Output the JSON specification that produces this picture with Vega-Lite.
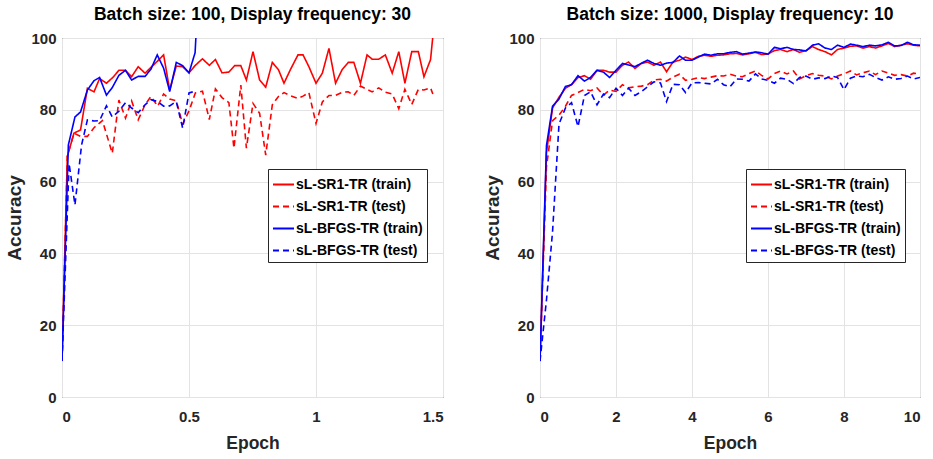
{
  "$schema": "https://vega.github.io/schema/vega-lite/v6.json",
  "padding": {"left": 5, "top": 5, "right": 3, "bottom": 4},
  "background": "white",
  "spacing": 39,
  "datasets": {
    "left": [
      {"s":"sL-SR1-TR (train)","e":0,"a":10},{"s":"sL-SR1-TR (train)","e":0.021,"a":67},{"s":"sL-SR1-TR (train)","e":0.047,"a":73.5},{"s":"sL-SR1-TR (train)","e":0.073,"a":74.4},{"s":"sL-SR1-TR (train)","e":0.1,"a":86},{"s":"sL-SR1-TR (train)","e":0.126,"a":85},{"s":"sL-SR1-TR (train)","e":0.148,"a":88.7},{"s":"sL-SR1-TR (train)","e":0.175,"a":87.4},{"s":"sL-SR1-TR (train)","e":0.2,"a":89},{"s":"sL-SR1-TR (train)","e":0.224,"a":91},{"s":"sL-SR1-TR (train)","e":0.25,"a":91},{"s":"sL-SR1-TR (train)","e":0.274,"a":89.2},{"s":"sL-SR1-TR (train)","e":0.3,"a":92},{"s":"sL-SR1-TR (train)","e":0.327,"a":90.2},{"s":"sL-SR1-TR (train)","e":0.35,"a":91.8},{"s":"sL-SR1-TR (train)","e":0.375,"a":93.5},{"s":"sL-SR1-TR (train)","e":0.4,"a":95.3},{"s":"sL-SR1-TR (train)","e":0.424,"a":85.5},{"s":"sL-SR1-TR (train)","e":0.45,"a":92.2},{"s":"sL-SR1-TR (train)","e":0.475,"a":92},{"s":"sL-SR1-TR (train)","e":0.5,"a":90.3},{"s":"sL-SR1-TR (train)","e":0.525,"a":92.4},{"s":"sL-SR1-TR (train)","e":0.553,"a":94.2},{"s":"sL-SR1-TR (train)","e":0.58,"a":92.4},{"s":"sL-SR1-TR (train)","e":0.604,"a":94},{"s":"sL-SR1-TR (train)","e":0.63,"a":90.3},{"s":"sL-SR1-TR (train)","e":0.657,"a":90.5},{"s":"sL-SR1-TR (train)","e":0.68,"a":92.3},{"s":"sL-SR1-TR (train)","e":0.704,"a":92.3},{"s":"sL-SR1-TR (train)","e":0.726,"a":88.3},{"s":"sL-SR1-TR (train)","e":0.752,"a":96.2},{"s":"sL-SR1-TR (train)","e":0.778,"a":88.3},{"s":"sL-SR1-TR (train)","e":0.802,"a":86.3},{"s":"sL-SR1-TR (train)","e":0.828,"a":93.2},{"s":"sL-SR1-TR (train)","e":0.852,"a":91.2},{"s":"sL-SR1-TR (train)","e":0.874,"a":87.4},{"s":"sL-SR1-TR (train)","e":0.9,"a":91.3},{"s":"sL-SR1-TR (train)","e":0.929,"a":95.3},{"s":"sL-SR1-TR (train)","e":0.949,"a":95.3},{"s":"sL-SR1-TR (train)","e":0.972,"a":92},{"s":"sL-SR1-TR (train)","e":1.0,"a":87.4},{"s":"sL-SR1-TR (train)","e":1.025,"a":90.2},{"s":"sL-SR1-TR (train)","e":1.051,"a":97.1},{"s":"sL-SR1-TR (train)","e":1.077,"a":87.4},{"s":"sL-SR1-TR (train)","e":1.103,"a":91.2},{"s":"sL-SR1-TR (train)","e":1.127,"a":93.2},{"s":"sL-SR1-TR (train)","e":1.149,"a":93.2},{"s":"sL-SR1-TR (train)","e":1.175,"a":87.4},{"s":"sL-SR1-TR (train)","e":1.201,"a":95.3},{"s":"sL-SR1-TR (train)","e":1.221,"a":94.1},{"s":"sL-SR1-TR (train)","e":1.247,"a":94.1},{"s":"sL-SR1-TR (train)","e":1.273,"a":95.3},{"s":"sL-SR1-TR (train)","e":1.3,"a":90.2},{"s":"sL-SR1-TR (train)","e":1.326,"a":96.2},{"s":"sL-SR1-TR (train)","e":1.35,"a":87.4},{"s":"sL-SR1-TR (train)","e":1.377,"a":96.2},{"s":"sL-SR1-TR (train)","e":1.403,"a":96.2},{"s":"sL-SR1-TR (train)","e":1.425,"a":89.2},{"s":"sL-SR1-TR (train)","e":1.451,"a":94},{"s":"sL-SR1-TR (train)","e":1.465,"a":104},
      {"s":"sL-SR1-TR (test)","e":0,"a":10},{"s":"sL-SR1-TR (test)","e":0.021,"a":67},{"s":"sL-SR1-TR (test)","e":0.047,"a":73.5},{"s":"sL-SR1-TR (test)","e":0.073,"a":72.6},{"s":"sL-SR1-TR (test)","e":0.1,"a":72.6},{"s":"sL-SR1-TR (test)","e":0.126,"a":75},{"s":"sL-SR1-TR (test)","e":0.159,"a":77},{"s":"sL-SR1-TR (test)","e":0.198,"a":67.9},{"s":"sL-SR1-TR (test)","e":0.224,"a":82.7},{"s":"sL-SR1-TR (test)","e":0.25,"a":77.7},{"s":"sL-SR1-TR (test)","e":0.274,"a":82.5},{"s":"sL-SR1-TR (test)","e":0.3,"a":77.2},{"s":"sL-SR1-TR (test)","e":0.327,"a":81.4},{"s":"sL-SR1-TR (test)","e":0.35,"a":83.7},{"s":"sL-SR1-TR (test)","e":0.377,"a":81},{"s":"sL-SR1-TR (test)","e":0.4,"a":84.4},{"s":"sL-SR1-TR (test)","e":0.424,"a":83},{"s":"sL-SR1-TR (test)","e":0.45,"a":82.5},{"s":"sL-SR1-TR (test)","e":0.475,"a":76},{"s":"sL-SR1-TR (test)","e":0.5,"a":79.7},{"s":"sL-SR1-TR (test)","e":0.525,"a":84.7},{"s":"sL-SR1-TR (test)","e":0.553,"a":85.2},{"s":"sL-SR1-TR (test)","e":0.58,"a":77.3},{"s":"sL-SR1-TR (test)","e":0.604,"a":85.8},{"s":"sL-SR1-TR (test)","e":0.63,"a":83.4},{"s":"sL-SR1-TR (test)","e":0.657,"a":82},{"s":"sL-SR1-TR (test)","e":0.677,"a":69.3},{"s":"sL-SR1-TR (test)","e":0.704,"a":86.9},{"s":"sL-SR1-TR (test)","e":0.726,"a":69.3},{"s":"sL-SR1-TR (test)","e":0.752,"a":81.8},{"s":"sL-SR1-TR (test)","e":0.778,"a":79},{"s":"sL-SR1-TR (test)","e":0.802,"a":67.4},{"s":"sL-SR1-TR (test)","e":0.828,"a":81.4},{"s":"sL-SR1-TR (test)","e":0.852,"a":83.7},{"s":"sL-SR1-TR (test)","e":0.874,"a":84.8},{"s":"sL-SR1-TR (test)","e":0.9,"a":83.9},{"s":"sL-SR1-TR (test)","e":0.929,"a":83.2},{"s":"sL-SR1-TR (test)","e":0.949,"a":83.8},{"s":"sL-SR1-TR (test)","e":0.972,"a":84.8},{"s":"sL-SR1-TR (test)","e":1.0,"a":76.2},{"s":"sL-SR1-TR (test)","e":1.025,"a":82.2},{"s":"sL-SR1-TR (test)","e":1.051,"a":84},{"s":"sL-SR1-TR (test)","e":1.077,"a":84},{"s":"sL-SR1-TR (test)","e":1.103,"a":84.9},{"s":"sL-SR1-TR (test)","e":1.127,"a":85},{"s":"sL-SR1-TR (test)","e":1.149,"a":84},{"s":"sL-SR1-TR (test)","e":1.175,"a":86.6},{"s":"sL-SR1-TR (test)","e":1.201,"a":85.7},{"s":"sL-SR1-TR (test)","e":1.221,"a":85},{"s":"sL-SR1-TR (test)","e":1.247,"a":86.1},{"s":"sL-SR1-TR (test)","e":1.273,"a":84.9},{"s":"sL-SR1-TR (test)","e":1.3,"a":84.4},{"s":"sL-SR1-TR (test)","e":1.326,"a":80.3},{"s":"sL-SR1-TR (test)","e":1.35,"a":85.7},{"s":"sL-SR1-TR (test)","e":1.377,"a":81.5},{"s":"sL-SR1-TR (test)","e":1.403,"a":85.7},{"s":"sL-SR1-TR (test)","e":1.425,"a":85.5},{"s":"sL-SR1-TR (test)","e":1.451,"a":86.1},{"s":"sL-SR1-TR (test)","e":1.46,"a":84.4},
      {"s":"sL-BFGS-TR (train)","e":0,"a":10},{"s":"sL-BFGS-TR (train)","e":0.025,"a":70.2},{"s":"sL-BFGS-TR (train)","e":0.051,"a":78},{"s":"sL-BFGS-TR (train)","e":0.073,"a":79.4},{"s":"sL-BFGS-TR (train)","e":0.1,"a":85.5},{"s":"sL-BFGS-TR (train)","e":0.126,"a":88.1},{"s":"sL-BFGS-TR (train)","e":0.148,"a":89},{"s":"sL-BFGS-TR (train)","e":0.175,"a":84.1},{"s":"sL-BFGS-TR (train)","e":0.198,"a":86.2},{"s":"sL-BFGS-TR (train)","e":0.224,"a":89.6},{"s":"sL-BFGS-TR (train)","e":0.25,"a":91},{"s":"sL-BFGS-TR (train)","e":0.274,"a":88.3},{"s":"sL-BFGS-TR (train)","e":0.3,"a":89.3},{"s":"sL-BFGS-TR (train)","e":0.327,"a":89.3},{"s":"sL-BFGS-TR (train)","e":0.35,"a":91.3},{"s":"sL-BFGS-TR (train)","e":0.375,"a":95.3},{"s":"sL-BFGS-TR (train)","e":0.4,"a":91.6},{"s":"sL-BFGS-TR (train)","e":0.424,"a":85.1},{"s":"sL-BFGS-TR (train)","e":0.45,"a":93.2},{"s":"sL-BFGS-TR (train)","e":0.475,"a":92.3},{"s":"sL-BFGS-TR (train)","e":0.5,"a":90.3},{"s":"sL-BFGS-TR (train)","e":0.524,"a":95.9},{"s":"sL-BFGS-TR (train)","e":0.53,"a":104},
      {"s":"sL-BFGS-TR (test)","e":0,"a":10},{"s":"sL-BFGS-TR (test)","e":0.028,"a":65},{"s":"sL-BFGS-TR (test)","e":0.051,"a":53.5},{"s":"sL-BFGS-TR (test)","e":0.077,"a":70.2},{"s":"sL-BFGS-TR (test)","e":0.1,"a":77.2},{"s":"sL-BFGS-TR (test)","e":0.126,"a":76.9},{"s":"sL-BFGS-TR (test)","e":0.148,"a":77},{"s":"sL-BFGS-TR (test)","e":0.175,"a":81.1},{"s":"sL-BFGS-TR (test)","e":0.198,"a":78},{"s":"sL-BFGS-TR (test)","e":0.224,"a":79.6},{"s":"sL-BFGS-TR (test)","e":0.25,"a":82},{"s":"sL-BFGS-TR (test)","e":0.274,"a":80.5},{"s":"sL-BFGS-TR (test)","e":0.3,"a":79.2},{"s":"sL-BFGS-TR (test)","e":0.327,"a":81.4},{"s":"sL-BFGS-TR (test)","e":0.35,"a":82.8},{"s":"sL-BFGS-TR (test)","e":0.377,"a":82.3},{"s":"sL-BFGS-TR (test)","e":0.4,"a":81},{"s":"sL-BFGS-TR (test)","e":0.424,"a":81.1},{"s":"sL-BFGS-TR (test)","e":0.45,"a":82.3},{"s":"sL-BFGS-TR (test)","e":0.475,"a":74.9},{"s":"sL-BFGS-TR (test)","e":0.5,"a":84.7},{"s":"sL-BFGS-TR (test)","e":0.515,"a":85}
    ],
    "right": [
      {"s":"sL-SR1-TR (train)","e":0,"a":10},{"s":"sL-SR1-TR (train)","e":0.17,"a":68},{"s":"sL-SR1-TR (train)","e":0.33,"a":80.5},{"s":"sL-SR1-TR (train)","e":0.5,"a":83.5},{"s":"sL-SR1-TR (train)","e":0.67,"a":86},{"s":"sL-SR1-TR (train)","e":0.83,"a":87},{"s":"sL-SR1-TR (train)","e":1,"a":89},{"s":"sL-SR1-TR (train)","e":1.17,"a":89.5},{"s":"sL-SR1-TR (train)","e":1.33,"a":88.5},{"s":"sL-SR1-TR (train)","e":1.5,"a":91},{"s":"sL-SR1-TR (train)","e":1.67,"a":91},{"s":"sL-SR1-TR (train)","e":1.83,"a":90.5},{"s":"sL-SR1-TR (train)","e":2,"a":90.5},{"s":"sL-SR1-TR (train)","e":2.17,"a":92.4},{"s":"sL-SR1-TR (train)","e":2.33,"a":93.3},{"s":"sL-SR1-TR (train)","e":2.5,"a":91.5},{"s":"sL-SR1-TR (train)","e":2.67,"a":92.9},{"s":"sL-SR1-TR (train)","e":2.83,"a":93.3},{"s":"sL-SR1-TR (train)","e":3,"a":92.4},{"s":"sL-SR1-TR (train)","e":3.17,"a":93.3},{"s":"sL-SR1-TR (train)","e":3.33,"a":90.6},{"s":"sL-SR1-TR (train)","e":3.5,"a":93.3},{"s":"sL-SR1-TR (train)","e":3.67,"a":93.8},{"s":"sL-SR1-TR (train)","e":3.83,"a":94.7},{"s":"sL-SR1-TR (train)","e":4,"a":94},{"s":"sL-SR1-TR (train)","e":4.17,"a":94.9},{"s":"sL-SR1-TR (train)","e":4.33,"a":95.2},{"s":"sL-SR1-TR (train)","e":4.5,"a":94.9},{"s":"sL-SR1-TR (train)","e":4.67,"a":95.2},{"s":"sL-SR1-TR (train)","e":4.83,"a":95.3},{"s":"sL-SR1-TR (train)","e":5,"a":95.6},{"s":"sL-SR1-TR (train)","e":5.17,"a":95.7},{"s":"sL-SR1-TR (train)","e":5.33,"a":95.3},{"s":"sL-SR1-TR (train)","e":5.5,"a":95.6},{"s":"sL-SR1-TR (train)","e":5.67,"a":96},{"s":"sL-SR1-TR (train)","e":5.83,"a":95.4},{"s":"sL-SR1-TR (train)","e":6,"a":95.5},{"s":"sL-SR1-TR (train)","e":6.17,"a":96.5},{"s":"sL-SR1-TR (train)","e":6.33,"a":96.8},{"s":"sL-SR1-TR (train)","e":6.5,"a":96.2},{"s":"sL-SR1-TR (train)","e":6.67,"a":96.8},{"s":"sL-SR1-TR (train)","e":6.83,"a":96},{"s":"sL-SR1-TR (train)","e":7,"a":96.5},{"s":"sL-SR1-TR (train)","e":7.17,"a":97.6},{"s":"sL-SR1-TR (train)","e":7.33,"a":96.8},{"s":"sL-SR1-TR (train)","e":7.5,"a":96.2},{"s":"sL-SR1-TR (train)","e":7.67,"a":95.3},{"s":"sL-SR1-TR (train)","e":7.83,"a":96.8},{"s":"sL-SR1-TR (train)","e":8,"a":97.2},{"s":"sL-SR1-TR (train)","e":8.17,"a":97.7},{"s":"sL-SR1-TR (train)","e":8.33,"a":97.8},{"s":"sL-SR1-TR (train)","e":8.5,"a":97.2},{"s":"sL-SR1-TR (train)","e":8.67,"a":97.6},{"s":"sL-SR1-TR (train)","e":8.83,"a":97.2},{"s":"sL-SR1-TR (train)","e":9,"a":97.8},{"s":"sL-SR1-TR (train)","e":9.17,"a":98.5},{"s":"sL-SR1-TR (train)","e":9.33,"a":97.6},{"s":"sL-SR1-TR (train)","e":9.5,"a":98},{"s":"sL-SR1-TR (train)","e":9.67,"a":98.4},{"s":"sL-SR1-TR (train)","e":9.83,"a":98},{"s":"sL-SR1-TR (train)","e":10,"a":97.8},
      {"s":"sL-SR1-TR (test)","e":0,"a":10},{"s":"sL-SR1-TR (test)","e":0.17,"a":64},{"s":"sL-SR1-TR (test)","e":0.33,"a":77},{"s":"sL-SR1-TR (test)","e":0.5,"a":78.5},{"s":"sL-SR1-TR (test)","e":0.67,"a":81},{"s":"sL-SR1-TR (test)","e":0.83,"a":84},{"s":"sL-SR1-TR (test)","e":1,"a":84.8},{"s":"sL-SR1-TR (test)","e":1.17,"a":85.7},{"s":"sL-SR1-TR (test)","e":1.33,"a":85.3},{"s":"sL-SR1-TR (test)","e":1.5,"a":86.1},{"s":"sL-SR1-TR (test)","e":1.67,"a":84.1},{"s":"sL-SR1-TR (test)","e":1.83,"a":85.5},{"s":"sL-SR1-TR (test)","e":2,"a":85.1},{"s":"sL-SR1-TR (test)","e":2.17,"a":87},{"s":"sL-SR1-TR (test)","e":2.33,"a":86.1},{"s":"sL-SR1-TR (test)","e":2.5,"a":86.4},{"s":"sL-SR1-TR (test)","e":2.67,"a":86.6},{"s":"sL-SR1-TR (test)","e":2.83,"a":87},{"s":"sL-SR1-TR (test)","e":3,"a":88.3},{"s":"sL-SR1-TR (test)","e":3.17,"a":88.5},{"s":"sL-SR1-TR (test)","e":3.33,"a":88},{"s":"sL-SR1-TR (test)","e":3.5,"a":89.1},{"s":"sL-SR1-TR (test)","e":3.67,"a":89.9},{"s":"sL-SR1-TR (test)","e":3.83,"a":88.2},{"s":"sL-SR1-TR (test)","e":4,"a":88.5},{"s":"sL-SR1-TR (test)","e":4.17,"a":89},{"s":"sL-SR1-TR (test)","e":4.33,"a":88.7},{"s":"sL-SR1-TR (test)","e":4.5,"a":89.1},{"s":"sL-SR1-TR (test)","e":4.67,"a":89.5},{"s":"sL-SR1-TR (test)","e":4.83,"a":89.4},{"s":"sL-SR1-TR (test)","e":5,"a":89.9},{"s":"sL-SR1-TR (test)","e":5.17,"a":89.4},{"s":"sL-SR1-TR (test)","e":5.33,"a":89.2},{"s":"sL-SR1-TR (test)","e":5.5,"a":90.1},{"s":"sL-SR1-TR (test)","e":5.67,"a":90.8},{"s":"sL-SR1-TR (test)","e":5.83,"a":89.6},{"s":"sL-SR1-TR (test)","e":6,"a":88.6},{"s":"sL-SR1-TR (test)","e":6.17,"a":90.1},{"s":"sL-SR1-TR (test)","e":6.33,"a":90.8},{"s":"sL-SR1-TR (test)","e":6.5,"a":90},{"s":"sL-SR1-TR (test)","e":6.67,"a":90.8},{"s":"sL-SR1-TR (test)","e":6.83,"a":88.6},{"s":"sL-SR1-TR (test)","e":7,"a":89.5},{"s":"sL-SR1-TR (test)","e":7.17,"a":90.1},{"s":"sL-SR1-TR (test)","e":7.33,"a":89.6},{"s":"sL-SR1-TR (test)","e":7.5,"a":89.4},{"s":"sL-SR1-TR (test)","e":7.67,"a":88.6},{"s":"sL-SR1-TR (test)","e":7.83,"a":89.4},{"s":"sL-SR1-TR (test)","e":8,"a":90},{"s":"sL-SR1-TR (test)","e":8.17,"a":90.8},{"s":"sL-SR1-TR (test)","e":8.33,"a":89.7},{"s":"sL-SR1-TR (test)","e":8.5,"a":90.3},{"s":"sL-SR1-TR (test)","e":8.67,"a":90.8},{"s":"sL-SR1-TR (test)","e":8.83,"a":89.8},{"s":"sL-SR1-TR (test)","e":9,"a":90.8},{"s":"sL-SR1-TR (test)","e":9.17,"a":90.2},{"s":"sL-SR1-TR (test)","e":9.33,"a":89.6},{"s":"sL-SR1-TR (test)","e":9.5,"a":89.8},{"s":"sL-SR1-TR (test)","e":9.67,"a":89.4},{"s":"sL-SR1-TR (test)","e":9.83,"a":90.2},{"s":"sL-SR1-TR (test)","e":10,"a":90},
      {"s":"sL-BFGS-TR (train)","e":0,"a":10},{"s":"sL-BFGS-TR (train)","e":0.17,"a":70},{"s":"sL-BFGS-TR (train)","e":0.33,"a":81},{"s":"sL-BFGS-TR (train)","e":0.5,"a":83},{"s":"sL-BFGS-TR (train)","e":0.67,"a":86.5},{"s":"sL-BFGS-TR (train)","e":0.83,"a":87},{"s":"sL-BFGS-TR (train)","e":1,"a":89.5},{"s":"sL-BFGS-TR (train)","e":1.17,"a":88},{"s":"sL-BFGS-TR (train)","e":1.33,"a":89},{"s":"sL-BFGS-TR (train)","e":1.5,"a":91},{"s":"sL-BFGS-TR (train)","e":1.67,"a":90.5},{"s":"sL-BFGS-TR (train)","e":1.83,"a":89},{"s":"sL-BFGS-TR (train)","e":2,"a":91},{"s":"sL-BFGS-TR (train)","e":2.17,"a":92.9},{"s":"sL-BFGS-TR (train)","e":2.33,"a":92.5},{"s":"sL-BFGS-TR (train)","e":2.5,"a":92},{"s":"sL-BFGS-TR (train)","e":2.67,"a":93},{"s":"sL-BFGS-TR (train)","e":2.83,"a":93.8},{"s":"sL-BFGS-TR (train)","e":3,"a":92.9},{"s":"sL-BFGS-TR (train)","e":3.17,"a":92.4},{"s":"sL-BFGS-TR (train)","e":3.33,"a":93},{"s":"sL-BFGS-TR (train)","e":3.5,"a":93.2},{"s":"sL-BFGS-TR (train)","e":3.67,"a":95},{"s":"sL-BFGS-TR (train)","e":3.83,"a":93.8},{"s":"sL-BFGS-TR (train)","e":4,"a":93.8},{"s":"sL-BFGS-TR (train)","e":4.17,"a":94.7},{"s":"sL-BFGS-TR (train)","e":4.33,"a":95.5},{"s":"sL-BFGS-TR (train)","e":4.5,"a":95.2},{"s":"sL-BFGS-TR (train)","e":4.67,"a":95.6},{"s":"sL-BFGS-TR (train)","e":4.83,"a":95.6},{"s":"sL-BFGS-TR (train)","e":5,"a":96},{"s":"sL-BFGS-TR (train)","e":5.17,"a":96.2},{"s":"sL-BFGS-TR (train)","e":5.33,"a":95.5},{"s":"sL-BFGS-TR (train)","e":5.5,"a":95.8},{"s":"sL-BFGS-TR (train)","e":5.67,"a":96.1},{"s":"sL-BFGS-TR (train)","e":5.83,"a":95.9},{"s":"sL-BFGS-TR (train)","e":6,"a":95.5},{"s":"sL-BFGS-TR (train)","e":6.17,"a":97.4},{"s":"sL-BFGS-TR (train)","e":6.33,"a":97},{"s":"sL-BFGS-TR (train)","e":6.5,"a":97.4},{"s":"sL-BFGS-TR (train)","e":6.67,"a":96.8},{"s":"sL-BFGS-TR (train)","e":6.83,"a":96.7},{"s":"sL-BFGS-TR (train)","e":7,"a":96.4},{"s":"sL-BFGS-TR (train)","e":7.17,"a":98},{"s":"sL-BFGS-TR (train)","e":7.33,"a":98.4},{"s":"sL-BFGS-TR (train)","e":7.5,"a":97.2},{"s":"sL-BFGS-TR (train)","e":7.67,"a":96.8},{"s":"sL-BFGS-TR (train)","e":7.83,"a":98},{"s":"sL-BFGS-TR (train)","e":8,"a":97.4},{"s":"sL-BFGS-TR (train)","e":8.17,"a":98.3},{"s":"sL-BFGS-TR (train)","e":8.33,"a":98},{"s":"sL-BFGS-TR (train)","e":8.5,"a":97.6},{"s":"sL-BFGS-TR (train)","e":8.67,"a":98},{"s":"sL-BFGS-TR (train)","e":8.83,"a":97.8},{"s":"sL-BFGS-TR (train)","e":9,"a":98.1},{"s":"sL-BFGS-TR (train)","e":9.17,"a":98.8},{"s":"sL-BFGS-TR (train)","e":9.33,"a":97.8},{"s":"sL-BFGS-TR (train)","e":9.5,"a":97.9},{"s":"sL-BFGS-TR (train)","e":9.67,"a":98.8},{"s":"sL-BFGS-TR (train)","e":9.83,"a":98.1},{"s":"sL-BFGS-TR (train)","e":10,"a":98},
      {"s":"sL-BFGS-TR (test)","e":0,"a":10},{"s":"sL-BFGS-TR (test)","e":0.17,"a":27},{"s":"sL-BFGS-TR (test)","e":0.33,"a":46},{"s":"sL-BFGS-TR (test)","e":0.5,"a":76},{"s":"sL-BFGS-TR (test)","e":0.67,"a":80.5},{"s":"sL-BFGS-TR (test)","e":0.83,"a":82},{"s":"sL-BFGS-TR (test)","e":1,"a":75.3},{"s":"sL-BFGS-TR (test)","e":1.17,"a":84},{"s":"sL-BFGS-TR (test)","e":1.33,"a":85},{"s":"sL-BFGS-TR (test)","e":1.5,"a":81.4},{"s":"sL-BFGS-TR (test)","e":1.67,"a":84.4},{"s":"sL-BFGS-TR (test)","e":1.83,"a":83.4},{"s":"sL-BFGS-TR (test)","e":2,"a":86},{"s":"sL-BFGS-TR (test)","e":2.17,"a":84},{"s":"sL-BFGS-TR (test)","e":2.33,"a":86},{"s":"sL-BFGS-TR (test)","e":2.5,"a":84},{"s":"sL-BFGS-TR (test)","e":2.67,"a":85.1},{"s":"sL-BFGS-TR (test)","e":2.83,"a":86.4},{"s":"sL-BFGS-TR (test)","e":3,"a":87.8},{"s":"sL-BFGS-TR (test)","e":3.17,"a":87.5},{"s":"sL-BFGS-TR (test)","e":3.33,"a":82.3},{"s":"sL-BFGS-TR (test)","e":3.5,"a":87.1},{"s":"sL-BFGS-TR (test)","e":3.67,"a":87},{"s":"sL-BFGS-TR (test)","e":3.83,"a":84.8},{"s":"sL-BFGS-TR (test)","e":4,"a":87.5},{"s":"sL-BFGS-TR (test)","e":4.17,"a":87.6},{"s":"sL-BFGS-TR (test)","e":4.33,"a":87.4},{"s":"sL-BFGS-TR (test)","e":4.5,"a":87.2},{"s":"sL-BFGS-TR (test)","e":4.67,"a":88.5},{"s":"sL-BFGS-TR (test)","e":4.83,"a":87},{"s":"sL-BFGS-TR (test)","e":5,"a":86.4},{"s":"sL-BFGS-TR (test)","e":5.17,"a":88.6},{"s":"sL-BFGS-TR (test)","e":5.33,"a":88.5},{"s":"sL-BFGS-TR (test)","e":5.5,"a":88},{"s":"sL-BFGS-TR (test)","e":5.67,"a":90},{"s":"sL-BFGS-TR (test)","e":5.83,"a":88.6},{"s":"sL-BFGS-TR (test)","e":6,"a":88.2},{"s":"sL-BFGS-TR (test)","e":6.17,"a":87.4},{"s":"sL-BFGS-TR (test)","e":6.33,"a":88.8},{"s":"sL-BFGS-TR (test)","e":6.5,"a":88.5},{"s":"sL-BFGS-TR (test)","e":6.67,"a":87.3},{"s":"sL-BFGS-TR (test)","e":6.83,"a":89},{"s":"sL-BFGS-TR (test)","e":7,"a":89.4},{"s":"sL-BFGS-TR (test)","e":7.17,"a":88.5},{"s":"sL-BFGS-TR (test)","e":7.33,"a":88.9},{"s":"sL-BFGS-TR (test)","e":7.5,"a":88.7},{"s":"sL-BFGS-TR (test)","e":7.67,"a":89.4},{"s":"sL-BFGS-TR (test)","e":7.83,"a":89},{"s":"sL-BFGS-TR (test)","e":8,"a":85.6},{"s":"sL-BFGS-TR (test)","e":8.17,"a":88.8},{"s":"sL-BFGS-TR (test)","e":8.33,"a":89.4},{"s":"sL-BFGS-TR (test)","e":8.5,"a":89.2},{"s":"sL-BFGS-TR (test)","e":8.67,"a":89.9},{"s":"sL-BFGS-TR (test)","e":8.83,"a":89},{"s":"sL-BFGS-TR (test)","e":9,"a":88.3},{"s":"sL-BFGS-TR (test)","e":9.17,"a":89.2},{"s":"sL-BFGS-TR (test)","e":9.33,"a":88.5},{"s":"sL-BFGS-TR (test)","e":9.5,"a":88.7},{"s":"sL-BFGS-TR (test)","e":9.67,"a":89.4},{"s":"sL-BFGS-TR (test)","e":9.83,"a":88.6},{"s":"sL-BFGS-TR (test)","e":10,"a":89}
    ]
  },
  "config": {
    "view": {"stroke": "#262626", "strokeWidth": 1},
    "title": {"font": "Liberation Sans", "fontSize": 17.5, "fontWeight": "bold", "color": "#000000", "offset": 8},
    "axis": {
      "labelFont": "Liberation Sans", "labelFontSize": 15, "labelFontWeight": "bold", "labelColor": "#262626",
      "titleFont": "Liberation Sans", "titleFontSize": 17.5, "titleFontWeight": "bold", "titleColor": "#262626",
      "gridColor": "#e3e3e3", "gridWidth": 1, "domain": false, "ticks": false
    },
    "axisX": {"labelPadding": 12, "titlePadding": 10},
    "axisY": {"labelPadding": 6, "titlePadding": 6, "titleFontSize": 19},
    "legend": {
      "orient": "none", "legendX": 206, "legendY": 131, "title": null,
      "strokeColor": "#262626", "fillColor": "white", "padding": 4, "labelLimit": 300,
      "labelFont": "Liberation Sans", "labelFontSize": 14, "labelFontWeight": "bold", "labelColor": "#000000",
      "symbolType": "stroke", "symbolSize": 441, "symbolStrokeWidth": 2, "rowPadding": 3, "labelOffset": 1
    }
  },
  "resolve": {"legend": {"color": "independent", "strokeDash": "independent"}, "scale": {"x": "independent"}},
  "hconcat": [
    {
      "width": 381, "height": 359,
      "title": "Batch size: 100, Display frequency: 30",
      "data": {"name": "left"},
      "mark": {"type": "line", "clip": true, "strokeWidth": 1.6},
      "encoding": {
        "x": {"field": "e", "type": "quantitative", "title": "Epoch", "scale": {"domain": [0, 1.5], "nice": false}, "axis": {"values": [0, 0.5, 1, 1.5], "format": "~g"}},
        "y": {"field": "a", "type": "quantitative", "title": "Accuracy", "scale": {"domain": [0, 100], "nice": false}, "axis": {"values": [0, 20, 40, 60, 80, 100]}},
        "color": {"field": "s", "type": "nominal", "scale": {"domain": ["sL-SR1-TR (train)", "sL-SR1-TR (test)", "sL-BFGS-TR (train)", "sL-BFGS-TR (test)"], "range": ["#ff0000", "#ff0000", "#0000ff", "#0000ff"]}},
        "strokeDash": {"field": "s", "type": "nominal", "scale": {"domain": ["sL-SR1-TR (train)", "sL-SR1-TR (test)", "sL-BFGS-TR (train)", "sL-BFGS-TR (test)"], "range": [[1, 0], [6, 4], [1, 0], [6, 4]]}}
      }
    },
    {
      "width": 380, "height": 359,
      "title": "Batch size: 1000, Display frequency: 10",
      "data": {"name": "right"},
      "mark": {"type": "line", "clip": true, "strokeWidth": 1.6},
      "encoding": {
        "x": {"field": "e", "type": "quantitative", "title": "Epoch", "scale": {"domain": [0, 10], "nice": false}, "axis": {"values": [0, 2, 4, 6, 8, 10]}},
        "y": {"field": "a", "type": "quantitative", "title": "Accuracy", "scale": {"domain": [0, 100], "nice": false}, "axis": {"values": [0, 20, 40, 60, 80, 100]}},
        "color": {"field": "s", "type": "nominal", "scale": {"domain": ["sL-SR1-TR (train)", "sL-SR1-TR (test)", "sL-BFGS-TR (train)", "sL-BFGS-TR (test)"], "range": ["#ff0000", "#ff0000", "#0000ff", "#0000ff"]}},
        "strokeDash": {"field": "s", "type": "nominal", "scale": {"domain": ["sL-SR1-TR (train)", "sL-SR1-TR (test)", "sL-BFGS-TR (train)", "sL-BFGS-TR (test)"], "range": [[1, 0], [6, 4], [1, 0], [6, 4]]}}
      }
    }
  ]
}
